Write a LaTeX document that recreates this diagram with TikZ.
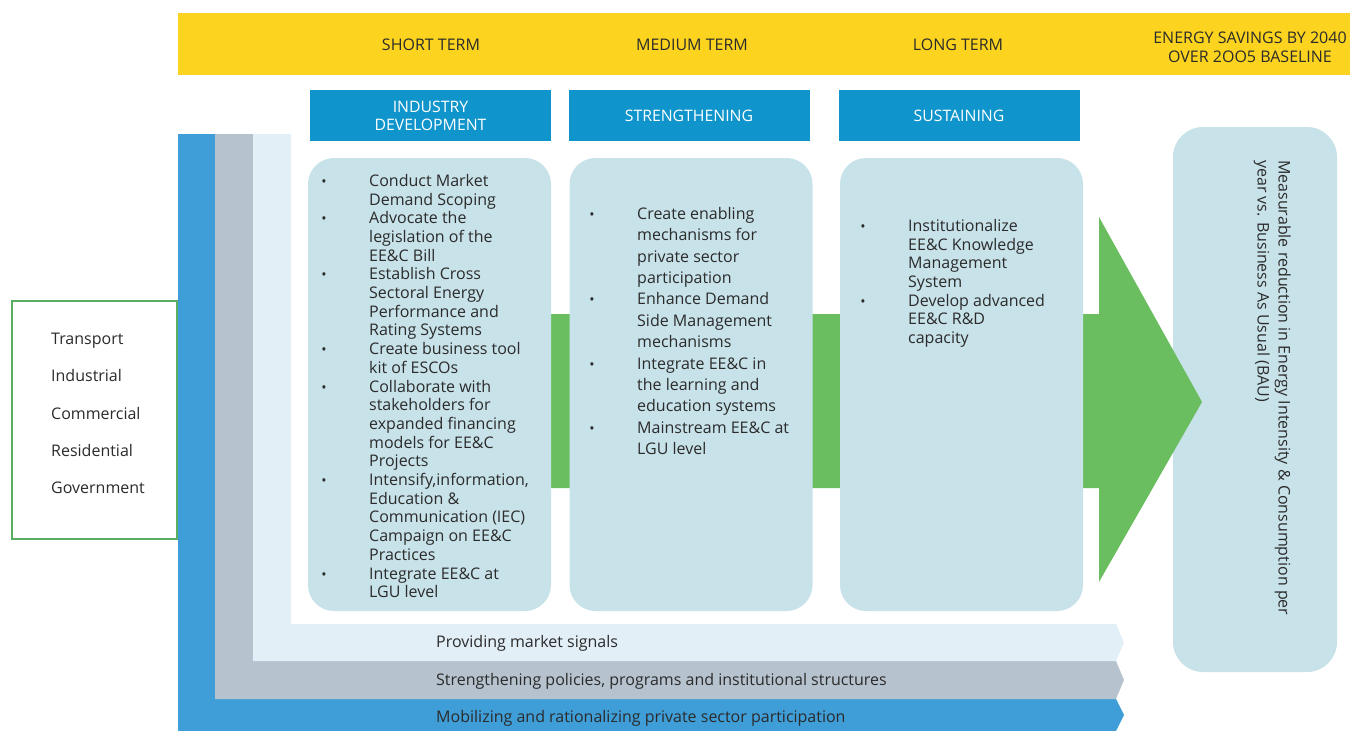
\documentclass[tikz,border=0pt]{standalone}
\usepackage{fontspec}
\setmainfont{Open Sans}
\definecolor{banner}{HTML}{FCD41F}
\definecolor{hdrblue}{HTML}{0F95CB}
\definecolor{card}{HTML}{C8E2E9}
\definecolor{arrowgreen}{HTML}{6ABE5F}
\definecolor{bandA}{HTML}{3F9ED8}
\definecolor{bandB}{HTML}{B6C3CE}
\definecolor{bandC}{HTML}{E2EFF7}
\definecolor{framegreen}{HTML}{5AAE61}
\definecolor{ink}{HTML}{2B2B2B}
\newcommand\bul{\llap{\fontsize{14}{14}\selectfont\textbullet\hspace{42.5pt}}}
\begin{document}
\begin{tikzpicture}[x=1pt, y=-1pt, font=\fontsize{16}{18.7}\selectfont, text=ink,
  hdr/.style={fill=hdrblue, text=white, minimum width=241pt, minimum height=51pt, inner sep=0pt, align=center, font=\fontsize{15.8}{18}\selectfont},
  cardbox/.style={fill=card, rounded corners=26pt, minimum width=243pt, minimum height=453pt, inner sep=0pt},
  items/.style={anchor=north west, inner sep=0pt, align=left},
  term/.style={font=\fontsize{16}{19}\selectfont, align=center}]
\useasboundingbox (0,0) rectangle (1350,731);
% timeline banner
\fill[banner] (178,13) rectangle (1350,75);
\node[term] (short) at (431,45) {SHORT TERM};
\node[term] (medium) at (692,45) {MEDIUM TERM};
\node[term] (long) at (958,45) {LONG TERM};
\node[term] (savings) at (1250,47) {ENERGY SAVINGS BY 2040\\OVER 2OO5 BASELINE};
% phase headers
\node[hdr] (hdrA) at (430.5,115.5) {INDUSTRY\\DEVELOPMENT};
\node[hdr] (hdrB) at (689,115.5) {STRENGTHENING};
\node[hdr] (hdrC) at (959,115.5) {SUSTAINING};
% L-shaped bands with chevron ends
\foreach \c/\xa/\xb/\ya/\yb in {bandA/178/215/699/731, bandB/215/253/661/699, bandC/253/291/624/661}
  \fill[\c] (\xa,134) -- (\xb,134) -- (\xb,\ya) -- (1116,\ya) -- (1124,{(\ya+\yb)/2}) -- (1116,\yb) -- (\xa,\yb) -- cycle;
\node[anchor=base west, inner sep=0pt] (signals) at (436,647.5) {Providing market signals};
\node[anchor=base west, inner sep=0pt] (policies) at (436,685.5) {Strengthening policies, programs and institutional structures};
\node[anchor=base west, inner sep=0pt] (private) at (436,722.5) {Mobilizing and rationalizing private sector participation};
% outcome
\node[fill=card, rounded corners=30pt, minimum width=164pt, minimum height=545pt, inner sep=0pt] (goal) at (1255,399.5) {};
\node[items, rotate=-90, font=\fontsize{16}{21}\selectfont] (goaltext) at (1291,160) {Measurable reduction in Energy Intensity \& Consumption per\\ year vs. Business As Usual (BAU)};
% big green arrow behind the cards
\fill[arrowgreen] (420,314) -- (1099,314) -- (1099,217) -- (1202,402) -- (1099,582) -- (1099,488) -- (420,488) -- cycle;
% cards
\node[cardbox] (cardA) at (429.5,384.5) {};
\node[cardbox] (cardB) at (691,384.5) {};
\node[cardbox] (cardC) at (961.5,384.5) {};
\node[items] (listA) at (369,174) {\bul Conduct Market\\ Demand Scoping\\ \bul Advocate the\\ legislation of the\\ EE\&C Bill\\ \bul Establish Cross\\ Sectoral Energy\\ Performance and\\ Rating Systems\\ \bul Create business tool\\ kit of ESCOs\\ \bul Collaborate with\\ stakeholders for\\ expanded financing\\ models for EE\&C\\ Projects\\ \bul Intensify,information,\\ Education \&\\ Communication (IEC)\\ Campaign on EE\&C\\ Practices\\ \bul Integrate EE\&C at\\ LGU level};
\node[items, font=\fontsize{16}{21.4}\selectfont] (listB) at (637,207) {\bul Create enabling\\ mechanisms for\\ private sector\\ participation\\ \bul Enhance Demand\\ Side Management\\ mechanisms\\ \bul Integrate EE\&C in\\ the learning and\\ education systems\\ \bul Mainstream EE\&C at\\ LGU level};
\node[items] (listC) at (908,219) {\bul Institutionalize\\ EE\&C Knowledge\\ Management\\ System\\ \bul Develop advanced\\ EE\&C R\&D\\ capacity};
% sectors
\node[draw=framegreen, line width=2pt, fill=white, minimum width=165pt, minimum height=238pt] (sectors) at (94.5,420) {};
\foreach \s [count=\i] in {Transport,Industrial,Commercial,Residential,Government}
  \node[anchor=base west, inner sep=0pt] (sec\i) at (51,{344.5+37.3*(\i-1)}) {\s};
\end{tikzpicture}
\end{document}
